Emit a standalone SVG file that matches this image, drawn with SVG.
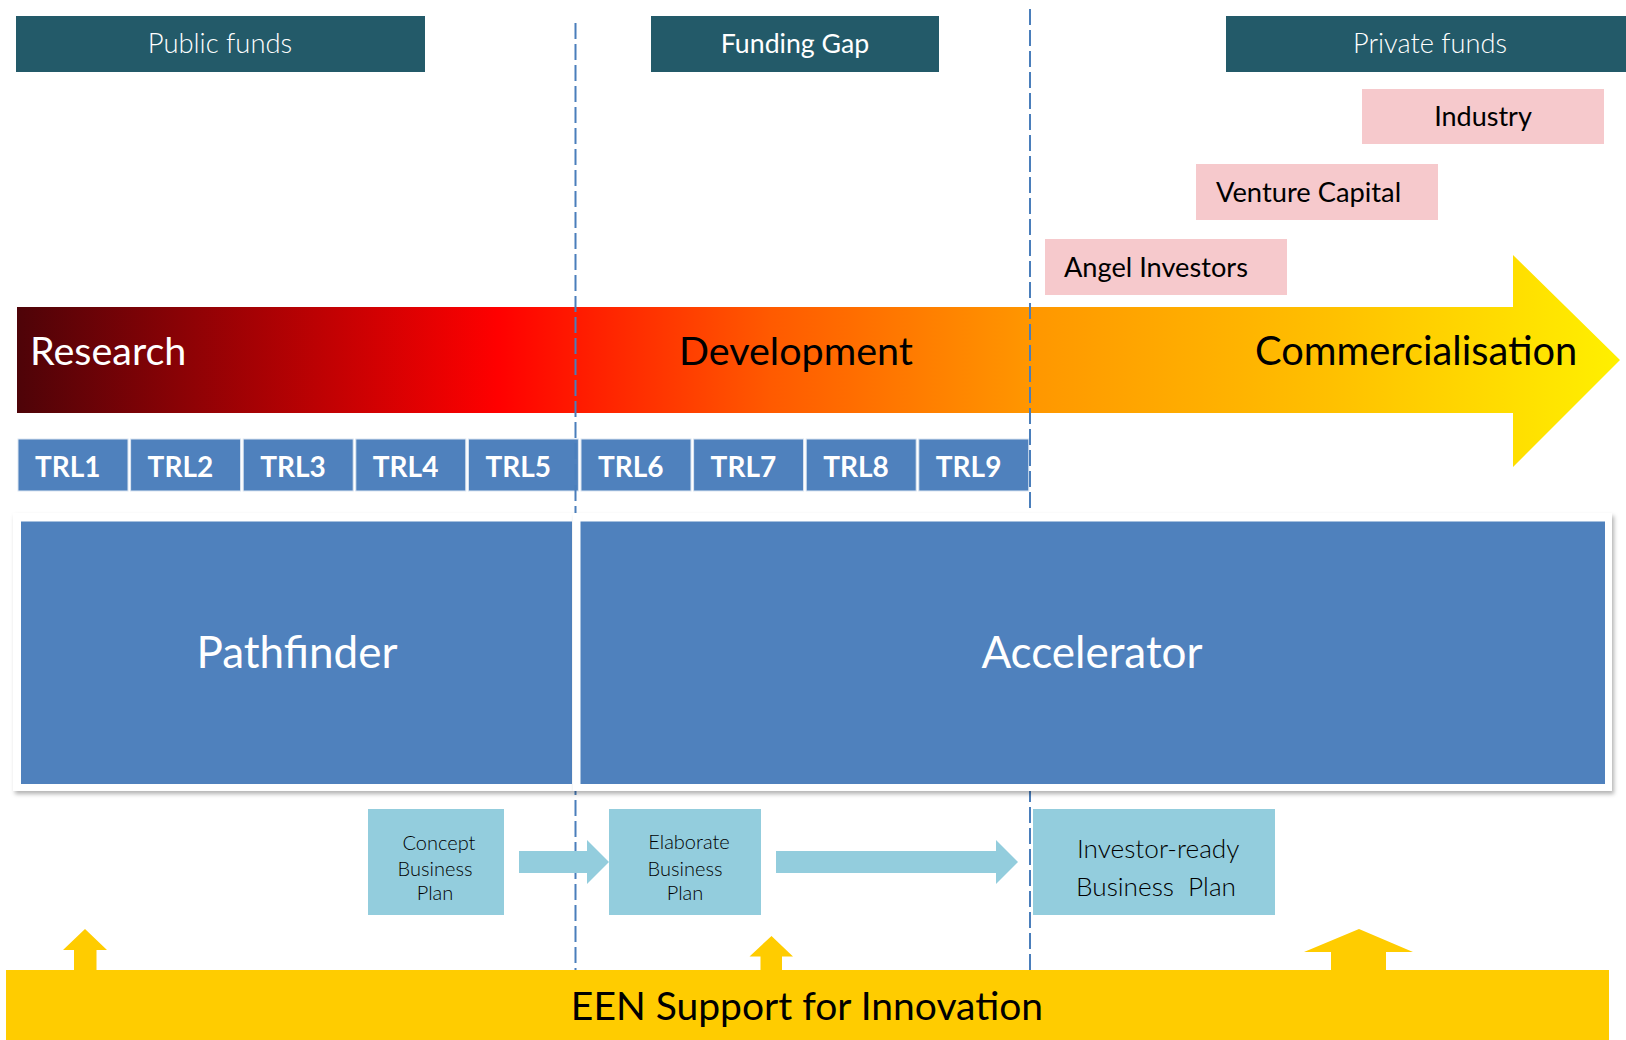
<svg xmlns="http://www.w3.org/2000/svg" width="1626" height="1040" viewBox="0 0 1626 1040">
<defs>
<linearGradient id="rgrad" gradientUnits="userSpaceOnUse" x1="17" y1="0" x2="1620" y2="0">
<stop offset="0" stop-color="#4E0308"/>
<stop offset="0.30" stop-color="#FF0000"/>
<stop offset="0.47" stop-color="#FF5A00"/>
<stop offset="0.63" stop-color="#FF9600"/>
<stop offset="0.82" stop-color="#FFC000"/>
<stop offset="1" stop-color="#FFF000"/>
</linearGradient>
<filter id="shadow" x="-5%" y="-5%" width="110%" height="115%">
<feDropShadow dx="2" dy="3" stdDeviation="2" flood-color="#000" flood-opacity="0.3"/>
</filter>
</defs>
<style>
.hdr{fill:#235A69}
.pink{fill:#F6C9CC}
.trl{fill:#4F81BD;stroke:#DCE6F2;stroke-width:1}
.blue{fill:#4F81BD}
.lb{fill:#93CDDD}
.yel{fill:#FFCC00}
.t{font-family:Lato,"Liberation Sans",sans-serif}
.wl{fill:#FFFFFF;font-weight:300}
.w{fill:#FFFFFF}
.k{fill:#000000}
.sep{stroke:#4A7EBB;stroke-width:2;stroke-dasharray:16 5;fill:none}
</style>
<rect width="1626" height="1040" fill="#FFFFFF"/>

<g id="public-funds">
<rect class="hdr" x="16" y="16" width="409" height="56"/>
<text class="t wl" x="220" y="53" font-size="27.4" text-anchor="middle">Public funds</text>
</g>
<g id="funding-gap">
<rect class="hdr" x="651" y="16" width="288" height="56"/>
<text class="t w" x="795" y="53" font-size="26.7" text-anchor="middle">Funding Gap</text>
</g>
<g id="private-funds">
<rect class="hdr" x="1226" y="16" width="400" height="56"/>
<text class="t wl" x="1430" y="53" font-size="27.2" text-anchor="middle">Private funds</text>
</g>

<g id="industry">
<rect class="pink" x="1362" y="89" width="242" height="55"/>
<text class="t k" x="1483" y="126" font-size="27" text-anchor="middle">Industry</text>
</g>
<g id="venture-capital">
<rect class="pink" x="1196" y="164" width="242" height="56"/>
<text class="t k" x="1216" y="202" font-size="27.3">Venture Capital</text>
</g>
<g id="angel-investors">
<rect class="pink" x="1045" y="239" width="242" height="56"/>
<text class="t k" x="1064" y="277" font-size="27.2">Angel Investors</text>
</g>

<g id="stage-arrow">
<polygon points="17,307 1513,307 1513,255 1620,360 1513,467 1513,413 17,413" fill="url(#rgrad)"/>
<text class="t w" x="30" y="365" font-size="39.5">Research</text>
<text class="t k" x="679" y="365" font-size="39.5">Development</text>
<text class="t k" x="1255" y="365" font-size="39.8">Commercialisation</text>
</g>

<g id="trl-scale">
<rect class="trl" x="18" y="439" width="110" height="52"/>
<rect class="trl" x="130.6" y="439" width="110" height="52"/>
<rect class="trl" x="243.2" y="439" width="110" height="52"/>
<rect class="trl" x="355.8" y="439" width="110" height="52"/>
<rect class="trl" x="468.4" y="439" width="110" height="52"/>
<rect class="trl" x="581" y="439" width="110" height="52"/>
<rect class="trl" x="693.6" y="439" width="110" height="52"/>
<rect class="trl" x="806.2" y="439" width="110" height="52"/>
<rect class="trl" x="918.8" y="439" width="110" height="52"/>
<g class="t w" font-size="28" font-weight="bold">
<text x="35" y="477">TRL1</text>
<text x="147.6" y="477">TRL2</text>
<text x="260.2" y="477">TRL3</text>
<text x="372.8" y="477">TRL4</text>
<text x="485.4" y="477">TRL5</text>
<text x="598" y="477">TRL6</text>
<text x="710.6" y="477">TRL7</text>
<text x="823.2" y="477">TRL8</text>
<text x="935.8" y="477">TRL9</text>
</g>
</g>

<g id="separators">
<line class="sep" x1="575.5" y1="23" x2="575.5" y2="970"/>
<line class="sep" x1="1030" y1="9" x2="1030" y2="970"/>
</g>

<g id="pathfinder">
<rect x="13" y="513" width="560" height="278" fill="#FFFFFF" filter="url(#shadow)"/>
<rect class="blue" x="21" y="521.5" width="551" height="262.5"/>
<text class="t w" x="297" y="668" font-size="44" text-anchor="middle">Pathfinder</text>
</g>
<g id="accelerator">
<rect x="573" y="513" width="1039" height="278" fill="#FFFFFF" filter="url(#shadow)"/>
<rect class="blue" x="580.5" y="521.5" width="1024.5" height="262.5"/>
<text class="t w" x="1092" y="668" font-size="44" text-anchor="middle">Accelerator</text>
</g>

<g id="concept-business-plan">
<rect class="lb" x="368" y="809" width="136" height="106"/>
<g class="t k" font-size="20" text-anchor="middle" font-weight="300">
<text x="439" y="850">Concept</text>
<text x="435" y="876">Business</text>
<text x="435" y="900">Plan</text>
</g>
</g>
<g id="elaborate-business-plan">
<rect class="lb" x="609" y="809" width="152" height="106"/>
<g class="t k" font-size="20" text-anchor="middle" font-weight="300">
<text x="689" y="849">Elaborate</text>
<text x="685" y="876">Business</text>
<text x="685" y="900">Plan</text>
</g>
</g>
<g id="investor-ready-business-plan">
<rect class="lb" x="1033" y="809" width="242" height="106"/>
<g class="t k" font-size="26.2" font-weight="300">
<text x="1077" y="858">Investor-ready</text>
<text x="1076" y="896" xml:space="preserve">Business  Plan</text>
</g>
</g>

<g id="connectors">
<polygon class="lb" points="519,851 587,851 587,840 609,862 587,884 587,873 519,873"/>
<polygon class="lb" points="776,851 996,851 996,840 1018,862 996,884 996,873 776,873"/>
<polygon class="yel" points="74,970 74,950 63,950 85,929 107,950 96.5,950 96.5,970"/>
<polygon class="yel" points="760.5,970 760.5,956.5 749.5,956.5 771.5,936 793,956.5 782,956.5 782,970"/>
<polygon class="yel" points="1331,970 1331,952 1304,952 1359,929 1413,952 1386,952 1386,970"/>
</g>

<g id="een-support">
<rect class="yel" x="6" y="970" width="1603" height="70"/>
<text class="t k" x="807" y="1020" font-size="39" text-anchor="middle">EEN Support for Innovation</text>
</g>
</svg>
